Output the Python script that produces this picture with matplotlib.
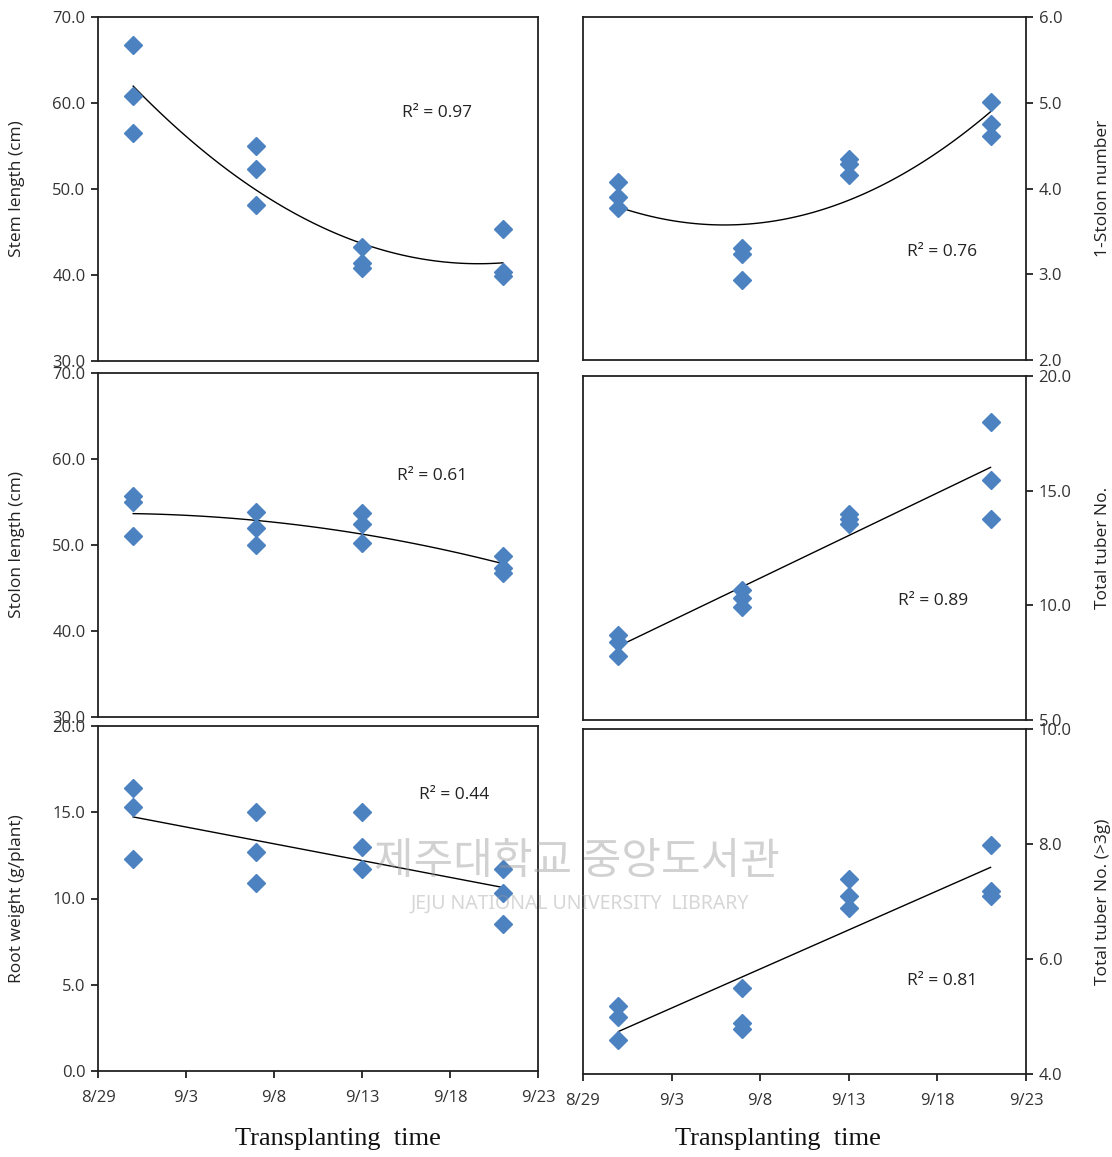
import matplotlib
matplotlib.use("Agg")
import matplotlib.pyplot as plt
import matplotlib.dates as mdates
import numpy as np
from datetime import datetime

plt.rcParams['font.family'] = ['Open Sans', 'DejaVu Sans']

# transplanting dates (3 replicates each)
dates = ['8/31', '9/7', '9/13', '9/21']
reps = 3

# values, replicates per date
stem_length = [[66.8, 60.8, 56.5], [55.0, 52.3, 48.1], [43.3, 41.4, 40.8], [45.4, 40.4, 39.9]]
stolon_number = [[4.07, 3.90, 3.77], [3.31, 3.24, 2.93], [4.34, 4.28, 4.16], [5.01, 4.75, 4.61]]
stolon_length = [[55.7, 55.0, 51.1], [53.8, 52.0, 50.0], [53.7, 52.5, 50.2], [48.7, 47.3, 46.8]]
tuber_no = [[8.71, 8.38, 7.77], [10.67, 10.31, 9.94], [13.97, 13.75, 13.53], [18.01, 15.47, 13.77]]
root_weight = [[16.4, 15.3, 12.3], [15.0, 12.7, 10.9], [15.0, 13.0, 11.7], [11.7, 10.3, 8.5]]
tuber_no_3g = [[5.19, 5.00, 4.59], [5.50, 4.89, 4.78], [7.39, 7.09, 6.89], [7.99, 7.19, 7.09]]

r2_text = ['0.97', '0.76', '0.61', '0.89', '0.44', '0.81']
ylabels = ['Stem length (cm)', '1-Stolon number', 'Stolon length (cm)', 'Total tuber No.',
           'Root weight (g/plant)', 'Total tuber No. (>3g)']

def to_date(s):
    m, d = s.split('/')
    return datetime(2014, int(m), int(d))

xd = [to_date(s) for s in dates]
xnum = mdates.date2num(xd)

panels = [
    # data, ylim, ystep, fit order, right side, rect, r2 pos
    (stem_length, (30, 70), 10, 2, False, [98, 17, 538, 361], (0.77, 0.72)),
    (stolon_number, (2, 6), 1, 2, True, [583, 17, 1026, 360], (0.81, 0.315)),
    (stolon_length, (30, 70), 10, 2, False, [98, 373, 538, 717], (0.76, 0.70)),
    (tuber_no, (5, 20), 5, 1, True, [583, 376, 1026, 720], (0.79, 0.346)),
    (root_weight, (0, 20), 5, 1, False, [98, 726, 538, 1071], (0.81, 0.80)),
    (tuber_no_3g, (4, 10), 2, 1, True, [583, 729, 1026, 1074], (0.81, 0.27)),
]

W, H = 1112, 1157
fig = plt.figure(figsize=(W / 100, H / 100), dpi=100)

blue = '#4d82c0'
for i, (vals, ylim, ystep, order, right, rect, r2pos) in enumerate(panels):
    x0, y0, x1, y1 = rect
    ax = fig.add_axes([x0 / W, 1 - y1 / H, (x1 - x0) / W, (y1 - y0) / H])
    vals = np.array(vals)
    xs = np.repeat(xnum, reps)
    ys = vals.flatten()
    ax.plot(xs, ys, linestyle='none', marker='D', markersize=9, color=blue, zorder=3)

    coef = np.polyfit(xs - xnum[0], ys, order)
    xf = np.linspace(xnum[0], xnum[-1], 100)
    ax.plot(xf, np.polyval(coef, xf - xnum[0]), color='black', lw=1.0, zorder=2)

    ax.set_xlim(mdates.date2num(datetime(2014, 8, 29)), mdates.date2num(datetime(2014, 9, 23)))
    ax.set_ylim(*ylim)
    ax.set_yticks(np.arange(ylim[0], ylim[1] + 0.01, ystep))
    ax.yaxis.set_major_formatter(matplotlib.ticker.FormatStrFormatter('%.1f'))

    if i >= 4:
        ticks = [datetime(2014, 8, 29), datetime(2014, 9, 3), datetime(2014, 9, 8),
                 datetime(2014, 9, 13), datetime(2014, 9, 18), datetime(2014, 9, 23)]
        ax.set_xticks(mdates.date2num(ticks))
        ax.set_xticklabels([f'{t.month}/{t.day}' for t in ticks])
    else:
        ax.set_xticks([])

    for sp in ax.spines.values():
        sp.set_color('#222222')
        sp.set_linewidth(1.3)
    ax.tick_params(direction='out', length=5, width=1.3, color='#222222',
                   labelsize=12, labelcolor='#333333', pad=4)
    ax.tick_params(axis='x', pad=9)

    if right:
        ax.yaxis.tick_right()
        ax.yaxis.set_label_position('right')
        ax.set_ylabel(ylabels[i], fontsize=12.5, color='#222222', rotation=90)
        ax.yaxis.set_label_coords(1.155, 0.5)
    else:
        ax.set_ylabel(ylabels[i], fontsize=12.5, color='#222222')
        ax.yaxis.set_label_coords(-0.165, 0.5)

    ax.text(r2pos[0], r2pos[1], 'R² = ' + r2_text[i], transform=ax.transAxes,
            ha='center', va='center', fontsize=12.5, color='#222222')

fig.text(338 / W, 1 - 1139 / H, 'Transplanting  time', ha='center', va='center',
         fontsize=19, family='Liberation Serif', color='#111111')
fig.text(778 / W, 1 - 1139 / H, 'Transplanting  time', ha='center', va='center',
         fontsize=19, family='Liberation Serif', color='#111111')

# library watermark
fig.text(577 / W, 1 - 862 / H, '제주대학교 중앙도서관', ha='center', va='center',
         fontsize=31, family=['Noto Sans CJK KR', 'DejaVu Sans'], color='#9a9a9a', alpha=0.45)
fig.text(580 / W, 1 - 904 / H, 'JEJU NATIONAL UNIVERSITY  LIBRARY', ha='center', va='center',
         fontsize=14, family=['Noto Sans', 'DejaVu Sans'], color='#9a9a9a', alpha=0.4)

fig.savefig('out.png', dpi=100)
